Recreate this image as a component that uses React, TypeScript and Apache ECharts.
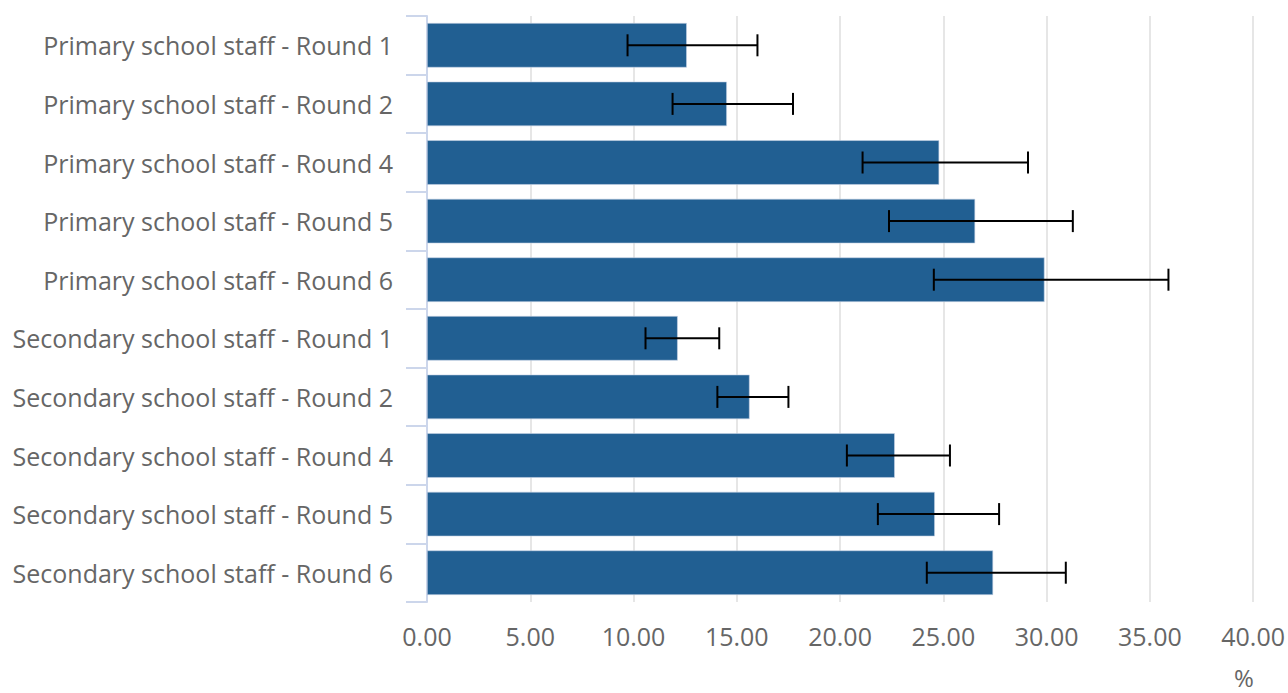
import React, { useEffect, useRef } from "react";
import * as echarts from "echarts";

const categories = [
  "Primary school staff - Round 1",
  "Primary school staff - Round 2",
  "Primary school staff - Round 4",
  "Primary school staff - Round 5",
  "Primary school staff - Round 6",
  "Secondary school staff - Round 1",
  "Secondary school staff - Round 2",
  "Secondary school staff - Round 4",
  "Secondary school staff - Round 5",
  "Secondary school staff - Round 6",
];
const values = [12.58, 14.52, 24.8, 26.54, 29.9, 12.14, 15.62, 22.65, 24.59, 27.41];
const lower = [9.71, 11.89, 21.09, 22.37, 24.54, 10.58, 14.06, 20.33, 21.83, 24.2];
const upper = [16.0, 17.72, 29.1, 31.27, 35.9, 14.15, 17.5, 25.32, 27.7, 30.93];
const xTicks = [0, 5, 10, 15, 20, 25, 30, 35, 40];

export default function App() {
  const ref = useRef<HTMLDivElement>(null);
  useEffect(() => {
    if (!ref.current) return;
    const chart = echarts.init(ref.current, null, { renderer: "svg" });
    const font = "'Open Sans', 'Noto Sans', sans-serif";
    const errData = categories.map((_, i) => [i, lower[i], upper[i]]);
    chart.setOption({
      animation: false,
      grid: { left: 427, right: 31, top: 16, bottom: 91, containLabel: false },
      xAxis: {
        type: "value",
        min: xTicks[0],
        max: xTicks[xTicks.length - 1],
        interval: 5,
        axisLine: { show: false },
        axisTick: { show: false },
        splitLine: { show: true, lineStyle: { color: "#e6e6e6", width: 2 } },
        axisLabel: {
          color: "#666666",
          fontSize: 25,
          fontFamily: font,
          margin: 21,
          formatter: (v: number) => v.toFixed(2),
        },
      },
      yAxis: {
        type: "category",
        inverse: true,
        data: categories,
        axisLine: { show: true, lineStyle: { color: "#ccd6eb", width: 2 } },
        axisTick: { show: true, length: 21, lineStyle: { color: "#ccd6eb", width: 2 } },
        axisLabel: { color: "#666666", fontSize: 25, fontFamily: font, margin: 34 },
      },
      graphic: [
        {
          type: "text",
          x: 1244,
          y: 677,
          style: {
            text: "%",
            fill: "#666666",
            fontSize: 24,
            fontFamily: font,
            lineHeight: 18,
            align: "center",
            verticalAlign: "middle",
          },
        },
      ],
      series: [
        {
          type: "bar",
          data: values,
          barCategoryGap: "24%",
          itemStyle: { color: "#215f92", borderColor: "#c8d4e6", borderWidth: 0.6 },
        },
        {
          type: "custom",
          data: errData,
          encode: { x: [1, 2], y: 0 },
          z: 10,
          renderItem: (params: any, api: any) => {
            const c = api.value(0);
            const lo = api.coord([api.value(1), c]);
            const hi = api.coord([api.value(2), c]);
            const h = 11;
            const style = { stroke: "#000000", lineWidth: 2 };
            return {
              type: "group",
              children: [
                { type: "line", shape: { x1: lo[0], y1: lo[1], x2: hi[0], y2: hi[1] }, style },
                { type: "line", shape: { x1: lo[0], y1: lo[1] - h, x2: lo[0], y2: lo[1] + h }, style },
                { type: "line", shape: { x1: hi[0], y1: hi[1] - h, x2: hi[0], y2: hi[1] + h }, style },
              ],
            };
          },
        },
      ],
    });
    return () => chart.dispose();
  }, []);
  return (
    <div
      ref={ref}
      style={{ position: "absolute", left: 0, top: 0, width: 1288, height: 693 }}
    />
  );
}
